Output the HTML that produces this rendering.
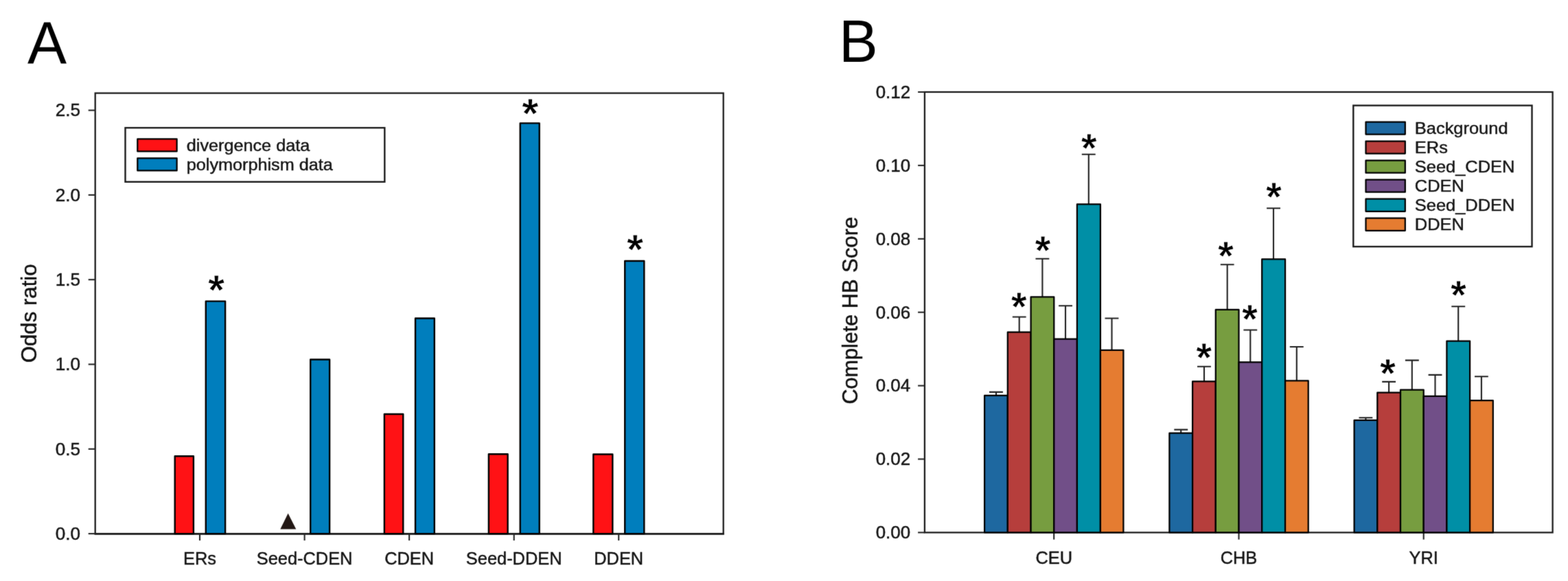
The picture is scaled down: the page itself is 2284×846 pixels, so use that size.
<!DOCTYPE html>
<html lang="en">
<head>
<meta charset="utf-8">
<title>Figure: odds ratio and complete HB score</title>
<style>
html,body{margin:0;padding:0;background:#fff;}
body{width:2284px;height:846px;overflow:hidden;}
svg{display:block;}
svg text{font-family:"Liberation Sans",Arial,Helvetica,sans-serif;}
svg text.ast{font-weight:bold;}
svg rect.b{stroke:#000;stroke-width:2.25px;stroke-linejoin:round;}
svg path.e{fill:none;stroke:#222;stroke-width:2.1px;}
svg text.ast{stroke:#fff;stroke-width:0.9px;}
svg text.t{stroke:#141414;stroke-width:0.45px;}
</style>
</head>
<body>
<svg width="2284" height="846" viewBox="0 0 2284 846">
<defs><filter id="soft" x="0" y="0" width="2284" height="846" filterUnits="userSpaceOnUse" color-interpolation-filters="sRGB"><feConvolveMatrix order="3" kernelMatrix="0.0113 0.0838 0.0113 0.0838 0.6193 0.0838 0.0113 0.0838 0.0113" edgeMode="duplicate" preserveAlpha="true"/></filter></defs>
<g filter="url(#soft)">
<rect x="0" y="0" width="2284" height="846" fill="#fff"/>
<text transform="translate(39.9,92.8) scale(1.008,1.035)" font-size="85" fill="#000">A</text>
<rect x="138.7" y="135.6" width="915.0" height="641.5" fill="none" stroke="#1c1c1c" stroke-width="2.3"/>
<line x1="137.6" y1="777.3" x2="1054.8" y2="777.3" stroke="#1c1c1c" stroke-width="2.7"/>
<line x1="128.7" y1="777.1" x2="138.7" y2="777.1" stroke="#262626" stroke-width="2.1"/>
<text class="t" transform="translate(117.1,785.9) scale(1.045,1.025)" font-size="25" text-anchor="end" fill="#141414">0.0</text>
<line x1="128.7" y1="653.8" x2="138.7" y2="653.8" stroke="#262626" stroke-width="2.1"/>
<text class="t" transform="translate(117.1,662.6) scale(1.045,1.025)" font-size="25" text-anchor="end" fill="#141414">0.5</text>
<line x1="128.7" y1="530.5" x2="138.7" y2="530.5" stroke="#262626" stroke-width="2.1"/>
<text class="t" transform="translate(117.1,539.3) scale(1.045,1.025)" font-size="25" text-anchor="end" fill="#141414">1.0</text>
<line x1="128.7" y1="407.2" x2="138.7" y2="407.2" stroke="#262626" stroke-width="2.1"/>
<text class="t" transform="translate(117.1,416.0) scale(1.045,1.025)" font-size="25" text-anchor="end" fill="#141414">1.5</text>
<line x1="128.7" y1="283.9" x2="138.7" y2="283.9" stroke="#262626" stroke-width="2.1"/>
<text class="t" transform="translate(117.1,292.7) scale(1.045,1.025)" font-size="25" text-anchor="end" fill="#141414">2.0</text>
<line x1="128.7" y1="160.6" x2="138.7" y2="160.6" stroke="#262626" stroke-width="2.1"/>
<text class="t" transform="translate(117.1,169.4) scale(1.045,1.025)" font-size="25" text-anchor="end" fill="#141414">2.5</text>
<line x1="291.0" y1="777.1" x2="291.0" y2="787.0" stroke="#262626" stroke-width="2.1"/>
<text class="t" transform="translate(291.0,822.1) scale(1.016,1.0)" font-size="25" text-anchor="middle" fill="#141414">ERs</text>
<line x1="443.6" y1="777.1" x2="443.6" y2="787.0" stroke="#262626" stroke-width="2.1"/>
<text class="t" transform="translate(443.6,822.1) scale(1.016,1.0)" font-size="25" text-anchor="middle" fill="#141414">Seed-CDEN</text>
<line x1="596.1" y1="777.1" x2="596.1" y2="787.0" stroke="#262626" stroke-width="2.1"/>
<text class="t" transform="translate(596.1,822.1) scale(1.016,1.0)" font-size="25" text-anchor="middle" fill="#141414">CDEN</text>
<line x1="748.7" y1="777.1" x2="748.7" y2="787.0" stroke="#262626" stroke-width="2.1"/>
<text class="t" transform="translate(748.7,822.1) scale(1.016,1.0)" font-size="25" text-anchor="middle" fill="#141414">Seed-DDEN</text>
<line x1="901.2" y1="777.1" x2="901.2" y2="787.0" stroke="#262626" stroke-width="2.1"/>
<text class="t" transform="translate(901.2,822.1) scale(1.016,1.0)" font-size="25" text-anchor="middle" fill="#141414">DDEN</text>
<text class="t" transform="translate(53.3,456.3) rotate(-90) scale(1.03,1.03)" font-size="30.3" text-anchor="middle" fill="#111">Odds ratio</text>
<rect class="b" x="254.70" y="664.25" width="27.20" height="112.85" fill="#ff1215" style="stroke-width:2.4px"/>
<rect class="b" x="299.80" y="438.60" width="28.30" height="338.50" fill="#007ebd" style="stroke-width:2.4px"/>
<rect class="b" x="452.20" y="523.50" width="27.90" height="253.60" fill="#007ebd" style="stroke-width:2.4px"/>
<rect class="b" x="559.85" y="603.00" width="27.40" height="174.10" fill="#ff1215" style="stroke-width:2.4px"/>
<rect class="b" x="605.00" y="463.45" width="27.80" height="313.65" fill="#007ebd" style="stroke-width:2.4px"/>
<rect class="b" x="711.85" y="661.30" width="27.75" height="115.80" fill="#ff1215" style="stroke-width:2.4px"/>
<rect class="b" x="757.70" y="179.40" width="28.00" height="597.70" fill="#007ebd" style="stroke-width:2.4px"/>
<rect class="b" x="864.30" y="661.50" width="28.00" height="115.60" fill="#ff1215" style="stroke-width:2.4px"/>
<rect class="b" x="910.20" y="379.95" width="28.10" height="397.15" fill="#007ebd" style="stroke-width:2.4px"/>
<polygon points="419.6,747.5 431.3,770.6 408.3,770.6" fill="#231815"/>
<text class="ast" transform="translate(315.0,442.7) scale(1,1)" font-size="62" text-anchor="middle" fill="#000">*</text>
<text class="ast" transform="translate(772.4,186.2) scale(1,1)" font-size="62" text-anchor="middle" fill="#000">*</text>
<text class="ast" transform="translate(925.0,384.1) scale(1,1)" font-size="62" text-anchor="middle" fill="#000">*</text>
<rect x="182.5" y="186.1" width="377.8" height="78.7" fill="#fff" stroke="#1c1c1c" stroke-width="2.4"/>
<rect class="b" x="200.3" y="202.3" width="57.3" height="18.1" fill="#ff1215"/>
<text class="t" transform="translate(271.8,219.7) scale(1.009,0.955)" font-size="25" fill="#141414">divergence data</text>
<rect class="b" x="200.3" y="230.3" width="57.3" height="18.1" fill="#007ebd"/>
<text class="t" transform="translate(271.8,247.7) scale(1.009,0.955)" font-size="25" fill="#141414">polymorphism data</text>
<text transform="translate(1222.0,89.5) scale(1,1.023)" font-size="85" fill="#000">B</text>
<rect x="1346.9" y="134.0" width="914.7" height="641.4" fill="none" stroke="#1c1c1c" stroke-width="2.3"/>
<line x1="1337.1" y1="775.4" x2="1346.9" y2="775.4" stroke="#262626" stroke-width="2.1"/>
<text class="t" transform="translate(1326.1,784.2) scale(1.036,1.025)" font-size="25" text-anchor="end" fill="#141414">0.00</text>
<line x1="1337.1" y1="668.5" x2="1346.9" y2="668.5" stroke="#262626" stroke-width="2.1"/>
<text class="t" transform="translate(1326.1,677.3) scale(1.036,1.025)" font-size="25" text-anchor="end" fill="#141414">0.02</text>
<line x1="1337.1" y1="561.6" x2="1346.9" y2="561.6" stroke="#262626" stroke-width="2.1"/>
<text class="t" transform="translate(1326.1,570.4) scale(1.036,1.025)" font-size="25" text-anchor="end" fill="#141414">0.04</text>
<line x1="1337.1" y1="454.7" x2="1346.9" y2="454.7" stroke="#262626" stroke-width="2.1"/>
<text class="t" transform="translate(1326.1,463.5) scale(1.036,1.025)" font-size="25" text-anchor="end" fill="#141414">0.06</text>
<line x1="1337.1" y1="347.8" x2="1346.9" y2="347.8" stroke="#262626" stroke-width="2.1"/>
<text class="t" transform="translate(1326.1,356.6) scale(1.036,1.025)" font-size="25" text-anchor="end" fill="#141414">0.08</text>
<line x1="1337.1" y1="240.9" x2="1346.9" y2="240.9" stroke="#262626" stroke-width="2.1"/>
<text class="t" transform="translate(1326.1,249.7) scale(1.036,1.025)" font-size="25" text-anchor="end" fill="#141414">0.10</text>
<line x1="1337.1" y1="134.0" x2="1346.9" y2="134.0" stroke="#262626" stroke-width="2.1"/>
<text class="t" transform="translate(1326.1,142.8) scale(1.036,1.025)" font-size="25" text-anchor="end" fill="#141414">0.12</text>
<line x1="1535.2" y1="775.4" x2="1535.2" y2="785.6" stroke="#262626" stroke-width="2.1"/>
<text class="t" transform="translate(1535.2,821.4) scale(1.016,1.0)" font-size="25" text-anchor="middle" fill="#141414">CEU</text>
<line x1="1804.5" y1="775.4" x2="1804.5" y2="785.6" stroke="#262626" stroke-width="2.1"/>
<text class="t" transform="translate(1804.5,821.4) scale(1.016,1.0)" font-size="25" text-anchor="middle" fill="#141414">CHB</text>
<line x1="2073.7" y1="775.4" x2="2073.7" y2="785.6" stroke="#262626" stroke-width="2.1"/>
<text class="t" transform="translate(2073.7,821.4) scale(1.016,1.0)" font-size="25" text-anchor="middle" fill="#141414">YRI</text>
<text class="t" transform="translate(1249.1,523.1) rotate(-90) scale(1.007,1.03)" font-size="30.4" text-anchor="middle" fill="#111">Complete</text>
<text class="t" transform="translate(1249.1,427.9) rotate(-90) scale(1.013,1.03)" font-size="30.4" text-anchor="middle" fill="#111">HB</text>
<text class="t" transform="translate(1249.1,356.3) rotate(-90) scale(1.026,1.03)" font-size="30.4" text-anchor="middle" fill="#111">Score</text>
<path class="e" d="M1451.0 575.6V570.9M1441.0 570.9H1460.9"/>
<path class="e" d="M1484.7 483.4V461.5M1474.8 461.5H1494.6"/>
<path class="e" d="M1518.4 432.1V376.7M1508.5 376.7H1528.3"/>
<path class="e" d="M1552.0 493.4V445.2M1542.1 445.2H1562.0"/>
<path class="e" d="M1585.8 297.0V224.8M1575.8 224.8H1595.7"/>
<path class="e" d="M1619.5 509.5V463.5M1609.5 463.5H1629.4"/>
<rect class="b" x="1434.10" y="575.85" width="33.70" height="199.55" fill="#1e68a0"/>
<rect class="b" x="1467.80" y="483.65" width="33.80" height="291.75" fill="#b63e3c"/>
<rect class="b" x="1501.60" y="432.35" width="33.70" height="343.05" fill="#779d40"/>
<rect class="b" x="1535.30" y="493.65" width="33.60" height="281.75" fill="#714f88"/>
<rect class="b" x="1568.90" y="297.25" width="34.00" height="478.15" fill="#008fa6"/>
<rect class="b" x="1602.90" y="509.75" width="33.50" height="265.65" fill="#e57c31"/>
<path class="e" d="M1720.2 630.4V625.6M1710.3 625.6H1730.2"/>
<path class="e" d="M1754.0 555.0V533.7M1744.0 533.7H1763.9"/>
<path class="e" d="M1787.7 450.7V385.2M1777.8 385.2H1797.6"/>
<path class="e" d="M1821.3 527.1V480.5M1811.4 480.5H1831.2"/>
<path class="e" d="M1855.0 377.2V303.2M1845.1 303.2H1865.0"/>
<path class="e" d="M1888.8 554.0V505.0M1878.8 505.0H1898.7"/>
<rect class="b" x="1703.40" y="630.65" width="33.70" height="144.75" fill="#1e68a0"/>
<rect class="b" x="1737.10" y="555.25" width="33.70" height="220.15" fill="#b63e3c"/>
<rect class="b" x="1770.80" y="450.95" width="33.70" height="324.45" fill="#779d40"/>
<rect class="b" x="1804.50" y="527.35" width="33.70" height="248.05" fill="#714f88"/>
<rect class="b" x="1838.20" y="377.45" width="33.85" height="397.95" fill="#008fa6"/>
<rect class="b" x="1872.05" y="554.25" width="33.65" height="221.15" fill="#e57c31"/>
<path class="e" d="M1989.4 611.5V608.3M1979.5 608.3H1999.3"/>
<path class="e" d="M2023.1 571.3V555.9M2013.2 555.9H2033.0"/>
<path class="e" d="M2056.8 567.3V524.6M2046.9 524.6H2066.8"/>
<path class="e" d="M2090.5 576.6V545.9M2080.6 545.9H2100.4"/>
<path class="e" d="M2124.2 496.3V446.3M2114.3 446.3H2134.2"/>
<path class="e" d="M2157.9 582.9V548.2M2148.0 548.2H2167.8"/>
<rect class="b" x="1972.60" y="611.75" width="33.70" height="163.65" fill="#1e68a0"/>
<rect class="b" x="2006.30" y="571.55" width="33.70" height="203.85" fill="#b63e3c"/>
<rect class="b" x="2040.00" y="567.55" width="33.70" height="207.85" fill="#779d40"/>
<rect class="b" x="2073.70" y="576.85" width="33.70" height="198.55" fill="#714f88"/>
<rect class="b" x="2107.40" y="496.55" width="33.70" height="278.85" fill="#008fa6"/>
<rect class="b" x="2141.10" y="583.15" width="33.70" height="192.25" fill="#e57c31"/>
<text class="ast" transform="translate(1484.2,467.2) scale(1,1)" font-size="59" text-anchor="middle" fill="#000">*</text>
<text class="ast" transform="translate(1518.9,384.6) scale(1,1)" font-size="59" text-anchor="middle" fill="#000">*</text>
<text class="ast" transform="translate(1586.2,235.5) scale(1,1)" font-size="59" text-anchor="middle" fill="#000">*</text>
<text class="ast" transform="translate(1753.7,540.5) scale(1,1)" font-size="59" text-anchor="middle" fill="#000">*</text>
<text class="ast" transform="translate(1785.5,393.0) scale(1,1)" font-size="59" text-anchor="middle" fill="#000">*</text>
<text class="ast" transform="translate(1820.6,484.9) scale(1,1)" font-size="59" text-anchor="middle" fill="#000">*</text>
<text class="ast" transform="translate(1855.6,307.3) scale(1,1)" font-size="59" text-anchor="middle" fill="#000">*</text>
<text class="ast" transform="translate(2021.5,563.9) scale(1,1)" font-size="59" text-anchor="middle" fill="#000">*</text>
<text class="ast" transform="translate(2124.6,449.7) scale(1,1)" font-size="59" text-anchor="middle" fill="#000">*</text>
<rect x="1971.3" y="153.6" width="260.2" height="205.5" fill="#fff" stroke="#1c1c1c" stroke-width="2.4"/>
<rect class="b" x="1989.5" y="177.5" width="57.3" height="18.1" fill="#1e68a0"/>
<text class="t" transform="translate(2060.8,194.5) scale(1.018,0.97)" font-size="25" fill="#141414">Background</text>
<rect class="b" x="1989.5" y="205.5" width="57.3" height="18.1" fill="#b63e3c"/>
<text class="t" transform="translate(2060.8,222.6) scale(1.018,0.97)" font-size="25" fill="#141414">ERs</text>
<rect class="b" x="1989.5" y="233.6" width="57.3" height="18.1" fill="#779d40"/>
<text class="t" transform="translate(2060.8,250.9) scale(1.018,0.94)" font-size="25" fill="#141414">Seed_CDEN</text>
<rect class="b" x="1989.5" y="261.6" width="57.3" height="18.1" fill="#714f88"/>
<text class="t" transform="translate(2060.8,278.9) scale(1.018,0.965)" font-size="25" fill="#141414">CDEN</text>
<rect class="b" x="1989.5" y="289.7" width="57.3" height="18.1" fill="#008fa6"/>
<text class="t" transform="translate(2060.8,307.0) scale(1.018,0.94)" font-size="25" fill="#141414">Seed_DDEN</text>
<rect class="b" x="1989.5" y="317.7" width="57.3" height="18.1" fill="#e57c31"/>
<text class="t" transform="translate(2060.8,334.8) scale(1.018,0.968)" font-size="25" fill="#141414">DDEN</text>
</g>
</svg>
</body>
</html>
